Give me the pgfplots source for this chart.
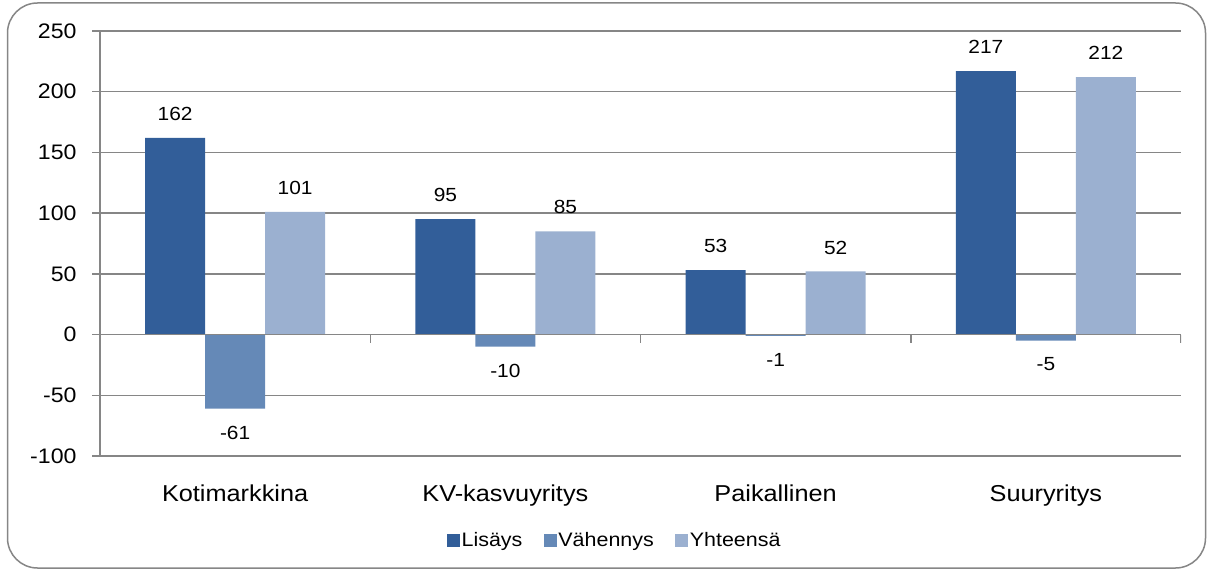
\documentclass[border=0pt]{standalone}
\usepackage{pgfplots}
\pgfplotsset{compat=1.18}
\usepackage{fontspec}
\setmainfont[FakeStretch=1.1]{Liberation Sans}
\definecolor{cA}{RGB}{50,94,153}
\definecolor{cB}{RGB}{101,137,183}
\definecolor{cC}{RGB}{155,176,208}
\definecolor{gridc}{RGB}{134,134,134}
\begin{document}
\begin{tikzpicture}[x=1pt,y=1pt]
\useasboundingbox (0,0) rectangle (1207,571);
\draw[gridc, line width=1.5pt, rounded corners=30pt] (7.5,3) rectangle (1205.5,568);
\begin{axis}[
  at={(100pt,115pt)}, anchor=south west,
  scale only axis, width=1081pt, height=425pt,
  xmin=-0.5, xmax=3.5, ymin=-100, ymax=250,
  ytick={-100,-50,...,250},
  xtick={0,1,2,3},
  xticklabels={Kotimarkkina,KV-kasvuyritys,Paikallinen,Suuryritys},
  axis y line*=left, axis x line*=bottom,
  x axis line style={draw=none},
  y axis line style={gridc, line width=1.5pt},
  xtick style={draw=none},
  ytick style={gridc, line width=1.5pt},
  tick align=outside, major tick length=8pt,
  ymajorgrids, grid style={gridc, line width=1.5pt},
  /pgf/number format/assume math mode=true,
  yticklabel style={font=\fontsize{21}{24}\selectfont, text=black, xshift=-12pt},
  xticklabel style={font=\fontsize{23}{26}\selectfont, text=black, yshift=-17pt},
  ybar=0pt, bar width=60pt,
  nodes near coords,
  every node near coord/.append style={font=\fontsize{19}{22}\selectfont, text=black, inner ysep=17pt},
  legend style={at={(0.476,-0.198)}, anchor=center, draw=none, fill=none,
    legend columns=3, font=\fontsize{19.5}{22}\selectfont,
    /tikz/every even column/.append style={column sep=20pt},
    nodes={inner sep=1.5pt}},
  legend image code/.code={\draw[#1,draw=none] (0pt,-6.5pt) rectangle (13pt,6.5pt);},
]
\addplot[fill=cA, draw=none] coordinates {(0,162) (1,95) (2,53) (3,217)};
\addlegendentry{Lisäys}
\addplot[fill=cB, draw=none] coordinates {(0,-61) (1,-10) (2,-1) (3,-5)};
\addlegendentry{Vähennys}
\addplot[fill=cC, draw=none] coordinates {(0,101) (1,85) (2,52) (3,212)};
\addlegendentry{Yhteensä}
\draw[gridc, line width=1.5pt] (axis cs:-0.5,0) -- (axis cs:3.5,0);
\draw[gridc, line width=1.5pt] (axis cs:0.5,0) -- (axis cs:0.5,-6.6);
\draw[gridc, line width=1.5pt] (axis cs:1.5,0) -- (axis cs:1.5,-6.6);
\draw[gridc, line width=1.5pt] (axis cs:2.5,0) -- (axis cs:2.5,-6.6);
\draw[gridc, line width=1.5pt] (axis cs:3.5,0) -- (axis cs:3.5,-6.6);
\end{axis}
\end{tikzpicture}
\end{document}
